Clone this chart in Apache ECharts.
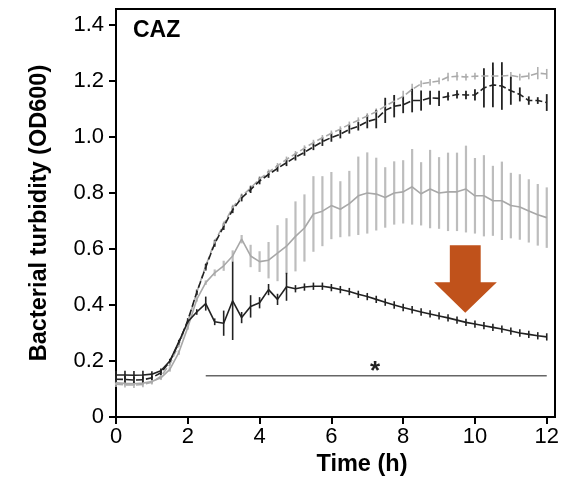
<!DOCTYPE html>
<html>
<head>
<meta charset="utf-8">
<script src="https://cdn.jsdelivr.net/npm/echarts@6/dist/echarts.min.js"></script>
<style>html,body{margin:0;padding:0;background:#fff}#chart{width:577px;height:486px}</style>
</head>
<body>
<div id="chart"></div>
<script>
const time = [0,0.25,0.5,0.75,1,1.25,1.5,1.75,2,2.25,2.5,2.75,3,3.25,3.5,3.75,4,4.25,4.5,4.75,5,5.25,5.5,5.75,6,6.25,6.5,6.75,7,7.25,7.5,7.75,8,8.25,8.5,8.75,9,9.25,9.5,9.75,10,10.25,10.5,10.75,11,11.25,11.5,11.75,12];

const greySolid = [0.122,0.120,0.119,0.121,0.127,0.140,0.170,0.230,0.320,0.420,0.480,0.515,0.540,0.575,0.635,0.575,0.555,0.560,0.585,0.610,0.645,0.675,0.725,0.735,0.755,0.742,0.762,0.790,0.800,0.796,0.784,0.800,0.804,0.822,0.797,0.814,0.800,0.804,0.804,0.814,0.790,0.790,0.772,0.772,0.755,0.750,0.736,0.722,0.712];
const greySolidErr = [0.008,0.008,0.008,0.008,0.008,0.008,0.008,0.008,0.008,0.008,0.008,0.012,0.018,0.020,0.015,0.040,0.037,0.065,0.100,0.100,0.125,0.120,0.135,0.125,0.120,0.100,0.117,0.140,0.145,0.130,0.108,0.113,0.113,0.135,0.113,0.140,0.128,0.140,0.140,0.155,0.135,0.145,0.125,0.140,0.117,0.117,0.113,0.110,0.108];

const greyDashed = [0.117,0.115,0.114,0.116,0.124,0.145,0.188,0.258,0.340,0.445,0.540,0.625,0.688,0.748,0.788,0.818,0.850,0.874,0.897,0.920,0.940,0.960,0.980,0.997,1.013,1.028,1.045,1.060,1.075,1.090,1.110,1.128,1.145,1.170,1.190,1.195,1.200,1.214,1.217,1.214,1.217,1.218,1.218,1.218,1.220,1.214,1.218,1.228,1.225];
const greyDashedErr = [0.010,0.010,0.010,0.010,0.008,0.008,0.008,0.008,0.008,0.008,0.010,0.010,0.010,0.010,0.010,0.010,0.010,0.010,0.010,0.010,0.010,0.010,0.010,0.010,0.010,0.010,0.010,0.010,0.010,0.012,0.015,0.020,0.020,0.020,0.012,0.012,0.012,0.015,0.015,0.012,0.012,0.015,0.030,0.020,0.012,0.012,0.012,0.022,0.018];

const blackDashed = [0.135,0.134,0.132,0.133,0.140,0.158,0.198,0.265,0.345,0.445,0.535,0.620,0.680,0.740,0.782,0.812,0.843,0.866,0.888,0.908,0.928,0.945,0.965,0.983,0.998,1.010,1.027,1.038,1.055,1.064,1.095,1.110,1.115,1.130,1.130,1.140,1.138,1.145,1.152,1.150,1.150,1.175,1.186,1.182,1.165,1.152,1.130,1.130,1.123];
const blackDashedErr = [0.012,0.012,0.012,0.012,0.008,0.008,0.008,0.008,0.008,0.010,0.012,0.012,0.012,0.012,0.012,0.012,0.012,0.012,0.012,0.012,0.012,0.012,0.012,0.015,0.015,0.015,0.015,0.015,0.024,0.033,0.045,0.040,0.030,0.042,0.036,0.025,0.027,0.015,0.015,0.015,0.020,0.070,0.080,0.085,0.050,0.025,0.015,0.012,0.030];

const blackSolid = [0.150,0.150,0.149,0.150,0.153,0.165,0.200,0.268,0.340,0.375,0.405,0.340,0.335,0.415,0.355,0.395,0.408,0.455,0.420,0.465,0.458,0.464,0.467,0.467,0.462,0.455,0.448,0.438,0.430,0.420,0.410,0.400,0.391,0.383,0.375,0.368,0.361,0.354,0.346,0.338,0.332,0.326,0.320,0.314,0.307,0.300,0.295,0.290,0.286];
const blackSolidErr = [0.015,0.015,0.015,0.015,0.010,0.008,0.008,0.008,0.008,0.010,0.025,0.012,0.045,0.140,0.020,0.040,0.020,0.020,0.020,0.050,0.013,0.013,0.013,0.013,0.013,0.013,0.013,0.013,0.013,0.013,0.013,0.013,0.013,0.013,0.013,0.013,0.013,0.013,0.013,0.013,0.013,0.013,0.013,0.013,0.013,0.013,0.013,0.013,0.013];

const xTicks = [0,2,4,6,8,10,12];
const yTicks = [0,0.2,0.4,0.6,0.8,1.0,1.2,1.4];
const yTickLabels = ['0','0.2','0.4','0.6','0.8','1.0','1.2','1.4'];

// significance bar and arrow annotation (data units)
const sigBar = [[2.5,0.147],[12,0.147]];
const sigStar = [7.22, 0.16];
const arrow = {shaftL:9.30, shaftR:10.16, top:0.613, headL:8.86, headR:10.61, headY:0.481, tipX:9.73, tipY:0.372};

const FONT = "'Liberation Sans', Arial, sans-serif";

function pairs(ys){ return time.map((t,i)=>[t, ys[i]]); }
function triples(ys, es){ return time.map((t,i)=>[t, ys[i], es[i]]); }

function errSeries(ys, es, color, width){
  return {
    type:'custom', data: triples(ys, es), silent:true,
    encode:{x:0, y:1},
    renderItem(params, api){
      const x = api.value(0), y = api.value(1), e = api.value(2);
      const a = api.coord([x, y+e]), b = api.coord([x, y-e]);
      return {type:'line', shape:{x1:a[0], y1:a[1], x2:b[0], y2:b[1]}, style:{stroke:color, lineWidth:width}};
    }
  };
}
function lineSeries(ys, color, dashed, width){
  return {type:'line', data: pairs(ys), showSymbol:false, symbol:'none', silent:true,
    lineStyle:{color, width, type: dashed ? [7,3] : 'solid'}, z:3};
}

const chart = echarts.init(document.getElementById('chart'), null, {renderer:'canvas'});
chart.setOption({
  animation:false,
  backgroundColor:'#fff',
  title:{text:'CAZ', left:128, top:14, textStyle:{fontFamily:FONT, fontWeight:'bold', fontSize:23, color:'#000'}},
  grid:{left:116, right:22, top:9, bottom:69, show:true, borderColor:'#000', borderWidth:2, backgroundColor:'transparent'},
  xAxis:{type:'value', min:0, max:12.23, interval:2,
    name:'Time (h)', nameLocation:'middle', nameGap:36,
    nameTextStyle:{fontFamily:FONT, fontWeight:'bold', fontSize:23.5, color:'#000', padding:[0,0,0,53]},
    axisLine:{show:true, onZero:false, lineStyle:{color:'#000', width:2}},
    axisTick:{show:true, length:7, lineStyle:{color:'#000', width:2}, customValues:xTicks},
    axisLabel:{fontFamily:FONT, fontSize:22, color:'#000', margin:9, customValues:xTicks, formatter:v=>String(v)},
    splitLine:{show:false}},
  yAxis:{type:'value', min:0, max:1.457, interval:0.2,
    name:'Bacterial turbidity (OD600)', nameLocation:'middle', nameGap:64, nameRotate:90,
    nameTextStyle:{fontFamily:FONT, fontWeight:'bold', fontSize:23.5, color:'#000'},
    axisLine:{show:true, onZero:false, lineStyle:{color:'#000', width:2}},
    axisTick:{show:true, length:7, lineStyle:{color:'#000', width:2}, customValues:yTicks},
    axisLabel:{fontFamily:FONT, fontSize:22, color:'#000', margin:12, customValues:yTicks,
      formatter:v=>{const i=yTicks.findIndex(t=>Math.abs(t-v)<1e-6); return i>=0?yTickLabels[i]:'';}},
    splitLine:{show:false}},
  series:[
    errSeries(greySolid, greySolidErr, '#bdbdbd', 2.2),
    lineSeries(greySolid, '#a8a8a8', false, 1.6),
    errSeries(greyDashed, greyDashedErr, '#b0b0b0', 1.6),
    lineSeries(greyDashed, '#aaaaaa', true, 1.6),
    errSeries(blackDashed, blackDashedErr, '#222', 1.8),
    lineSeries(blackDashed, '#222', true, 1.6),
    errSeries(blackSolid, blackSolidErr, '#222', 1.6),
    lineSeries(blackSolid, '#222', false, 1.6),
    {type:'line', data:sigBar, showSymbol:false, symbol:'none', silent:true, lineStyle:{color:'#666', width:1.5}},
    {type:'custom', data:[sigStar], silent:true, encode:{x:0,y:1},
      renderItem(params, api){
        const p = api.coord([api.value(0), api.value(1)]);
        return {type:'text', x:p[0], y:p[1], style:{text:'*', fontFamily:FONT, fontSize:26, fontWeight:'bold', fill:'#222', align:'center', verticalAlign:'middle'}};
      }},
    {type:'custom', data:[[arrow.tipX, arrow.tipY]], silent:true, encode:{x:0,y:1}, z:5,
      renderItem(params, api){
        const c = (x,y)=>api.coord([x,y]);
        const pts = [c(arrow.shaftL,arrow.top), c(arrow.shaftR,arrow.top), c(arrow.shaftR,arrow.headY), c(arrow.headR,arrow.headY),
          c(arrow.tipX,arrow.tipY), c(arrow.headL,arrow.headY), c(arrow.shaftL,arrow.headY)];
        return {type:'polygon', shape:{points:pts}, style:{fill:'#c0521b'}};
      }}
  ]
});
</script>
</body>
</html>
